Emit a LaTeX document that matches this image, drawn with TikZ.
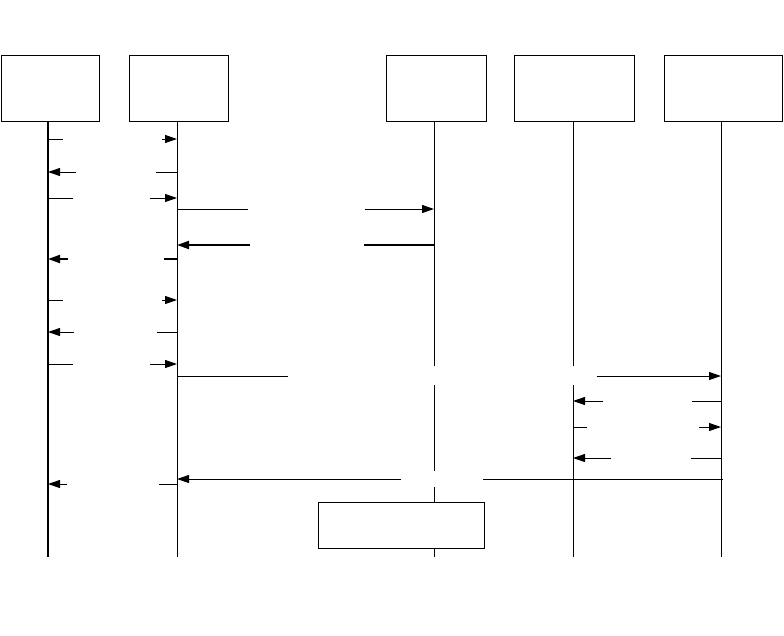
\documentclass[tikz,border=0pt]{standalone}
\usetikzlibrary{arrows.meta}
\begin{document}
\begin{tikzpicture}[x=1pt,y=-1pt,
  obj/.style={draw, line width=1pt, inner sep=0pt, fill=white},
  life/.style={line width=1pt},
  tip/.style={-{Triangle[length=12pt,width=8pt]}}]
\useasboundingbox (0,0) rectangle (784,635);
% participant boxes
\node[obj, minimum width=98pt, minimum height=66pt] (A) at (50,88) {};
\node[obj, minimum width=99pt, minimum height=66pt] (B) at (178.5,88) {};
\node[obj, minimum width=100pt, minimum height=66pt] (C) at (436,88) {};
\node[obj, minimum width=120pt, minimum height=66pt] (D) at (574,88) {};
\node[obj, minimum width=118pt, minimum height=66pt] (E) at (723,88) {};
% lifelines
\draw[line width=2pt] (48,121) -- (48,557);
\draw[life] (177,121) -- (177,557);
\draw[life] (434,121) -- (434,366) (434,385) -- (434,471) (434,487) -- (434,557);
\draw[life] (573,121) -- (573,366) (573,385) -- (573,557);
\draw[life] (721,121) -- (721,557);
% note box
\node[obj, minimum width=166pt, minimum height=46pt] (N) at (401,525) {};
% messages: y / start / gap start / gap end / end / width
\foreach \y/\a/\b/\c/\d/\w in {
  139/48/63/162/177/1pt,
  172/177/156/76/48/1pt,
  198/48/73/150/177/1pt,
  209/177/248/365/434/1pt,
  245/434/364/250/177/2pt,
  259/177/164/68/48/2pt,
  300/48/63/162/177/1pt,
  332/177/157/74/48/1pt,
  364/48/73/150/177/1pt,
  376/177/288/597/721/1pt,
  401/721/692/603/573/1pt,
  427/573/587/699/721/1pt,
  458/721/691/611/573/1pt,
  479/723/483/401/177/1pt,
  484/177/159/67/48/1pt}{
  \draw[line width=\w] (\a,\y) -- (\b,\y);
  \draw[line width=\w, tip] (\c,\y) -- (\d,\y);
}
\end{tikzpicture}
\end{document}
